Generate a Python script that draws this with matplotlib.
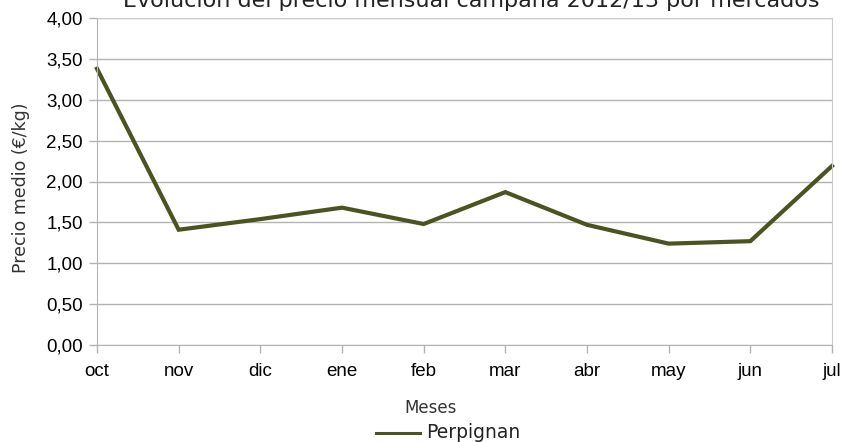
import matplotlib
matplotlib.use("Agg")
import matplotlib.pyplot as plt
from matplotlib.ticker import FuncFormatter
from matplotlib.lines import Line2D

meses = ['oct', 'nov', 'dic', 'ene', 'feb', 'mar', 'abr', 'may', 'jun', 'jul']
perpignan = [3.38, 1.41, 1.54, 1.68, 1.48, 1.87, 1.47, 1.24, 1.27, 2.19]
yticks = [0, 0.5, 1.0, 1.5, 2.0, 2.5, 3.0, 3.5, 4.0]

W, H = 841, 442
fig = plt.figure(figsize=(W / 100, H / 100), dpi=100)
# plot area in pixels: left 97, right 832, top 18, bottom 345
ax = fig.add_axes([97 / W, 1 - 345 / H, (832 - 97) / W, (345 - 18) / H])

x = range(len(meses))
ax.plot(x, perpignan, color='#4b5320', lw=3, solid_joinstyle='miter', clip_on=False)

ax.set_xlim(0, len(meses) - 1)
ax.set_ylim(0, 4)
ax.set_xticks(list(x))
ax.set_xticklabels(meses, fontfamily='Liberation Sans', fontsize=13.5)
ax.set_yticks(yticks)
ax.yaxis.set_major_formatter(FuncFormatter(lambda v, p: f'{v:.2f}'.replace('.', ',')))
for lab in ax.get_yticklabels():
    lab.set_fontfamily('Liberation Sans')
    lab.set_fontsize(13.5)

ax.grid(axis='y', color='#b3b3b3', lw=1)
ax.set_axisbelow(True)
for s in ['top', 'right']:
    ax.spines[s].set_color('#cccccc')
for s in ['left', 'bottom']:
    ax.spines[s].set_color('#b3b3b3')
ax.tick_params(axis='y', color='#b3b3b3', length=6, width=1, pad=4)
ax.tick_params(axis='x', color='#b3b3b3', length=6, width=1, pad=7)

fig.text(21 / W, 1 - 188 / H, 'Precio medio (€/kg)', rotation=90, ha='center', va='center',
         fontfamily='DejaVu Sans', fontsize=12.5, color='#333333')
fig.text(431 / W, 1 - 408 / H, 'Meses', ha='center', va='center',
         fontfamily='DejaVu Sans', fontsize=12, color='#333333')
fig.text(471 / W, 1 - 7 / H, 'Evolución del precio mensual campaña 2012/13 por mercados',
         ha='center', va='baseline', fontfamily='DejaVu Sans', fontsize=16, color='#222222')

# legend
fig.add_artist(Line2D([376 / W, 420 / W], [1 - 433 / H, 1 - 433 / H], color='#4b5320', lw=2.2))
fig.text(426 / W, 1 - 433 / H, 'Perpignan', ha='left', va='center',
         fontfamily='DejaVu Sans', fontsize=13.5, color='#222222')

fig.savefig('out.png', dpi=100)
